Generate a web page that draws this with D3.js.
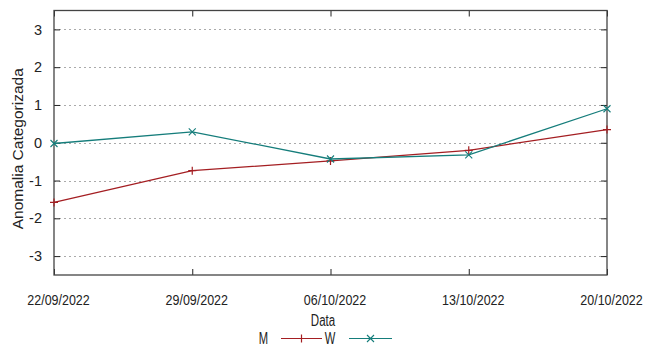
<!DOCTYPE html>
<html>
<head>
<meta charset="utf-8">
<script src="https://cdn.jsdelivr.net/npm/d3@7"></script>
<style>
  body { margin: 0; background: #fff; }
  text { font-family: 'Liberation Sans', Arial, sans-serif; fill: #222; }
</style>
</head>
<body>
<script>
const width = 647;
const height = 346;

const dates = ['22/09/2022', '29/09/2022', '06/10/2022', '13/10/2022', '20/10/2022'];
const valuesM = [-1.58, -0.74, -0.48, -0.2, 0.35];
const valuesW = [-0.02, 0.29, -0.43, -0.32, 0.9];
const yTicks = [-3, -2, -1, 0, 1, 2, 3];

const colorM = '#a41e22';
const colorW = '#157d7b';

const margin = { top: 10.5, right: 40, bottom: 71, left: 54 };

const svg = d3.select('body').append('svg')
  .attr('width', width)
  .attr('height', height);

// squeeze text to look like a narrow face
function narrow(sel, k) {
  sel.each(function () {
    const w = this.getComputedTextLength();
    d3.select(this).attr('textLength', w * k).attr('lengthAdjust', 'spacingAndGlyphs');
  });
}

const x = d3.scalePoint()
  .domain(dates)
  .range([margin.left, width - margin.right]);

const y = d3.scaleLinear()
  .domain([-3.5, 3.5])
  .range([height - margin.bottom, margin.top]);

// grid
svg.append('g')
  .selectAll('line')
  .data(yTicks)
  .enter().append('line')
  .attr('x1', margin.left)
  .attr('x2', width - margin.right)
  .attr('y1', d => Math.round(y(d)) + 0.5)
  .attr('y2', d => Math.round(y(d)) + 0.5)
  .style('stroke', '#aaa')
  .style('stroke-dasharray', '2,3');

// axes with inward ticks
const yLeft = svg.append('g')
  .attr('transform', `translate(${margin.left},0)`)
  .call(d3.axisLeft(y).tickValues(yTicks).tickFormat(d => String(d))
    .tickSizeInner(-6).tickSizeOuter(0).tickPadding(12));
const yRight = svg.append('g')
  .attr('transform', `translate(${width - margin.right},0)`)
  .call(d3.axisRight(y).tickValues(yTicks).tickSizeInner(-6).tickSizeOuter(0).tickFormat(''));
const xBottom = svg.append('g')
  .attr('transform', `translate(0,${height - margin.bottom})`)
  .call(d3.axisBottom(x).tickSizeInner(-6).tickSizeOuter(0).tickPadding(20));
const xTop = svg.append('g')
  .attr('transform', `translate(0,${margin.top})`)
  .call(d3.axisTop(x).tickSizeInner(-6).tickSizeOuter(0).tickFormat(''));

[yLeft, yRight, xBottom, xTop].forEach(g => {
  g.select('.domain').remove();
  g.selectAll('line').style('stroke', '#222');
});

yLeft.selectAll('text')
  .style('font-family', "'Liberation Sans', Arial, sans-serif")
  .style('font-size', '14.5px')
  .style('fill', '#222');

xBottom.selectAll('text')
  .attr('dx', 4)
  .style('font-family', "'Liberation Sans', Arial, sans-serif")
  .style('font-size', '14.5px')
  .style('fill', '#222')
  .call(narrow, 0.86);

// frame
svg.append('rect')
  .attr('x', margin.left)
  .attr('y', margin.top)
  .attr('width', width - margin.left - margin.right)
  .attr('height', height - margin.top - margin.bottom)
  .style('fill', 'none')
  .style('stroke', '#444')
  .style('stroke-width', 1.3);

// series
const series = [
  { name: 'M', values: valuesM, color: colorM, mark: 'plus' },
  { name: 'W', values: valuesW, color: colorW, mark: 'cross' }
];

const line = d3.line()
  .x((d, i) => x(dates[i]))
  .y(d => y(d));

function marker(g, cx, cy, type, color) {
  if (type === 'plus') {
    const s = 4;
    g.append('path').attr('d', `M${cx - s},${cy}H${cx + s}M${cx},${cy - s}V${cy + s}`)
      .style('stroke', color).style('stroke-width', 1.2);
  } else {
    const s = 3.5;
    g.append('path').attr('d', `M${cx - s},${cy - s}L${cx + s},${cy + s}M${cx - s},${cy + s}L${cx + s},${cy - s}`)
      .style('stroke', color).style('stroke-width', 1.1);
  }
}

series.forEach(s => {
  const g = svg.append('g');
  g.append('path')
    .datum(s.values)
    .attr('d', line)
    .style('fill', 'none')
    .style('stroke', s.color)
    .style('stroke-width', 1.3);
  s.values.forEach((v, i) => marker(g, x(dates[i]), y(v), s.mark, s.color));
});

// axis titles
svg.append('text')
  .attr('transform', `translate(23,${(margin.top + height - margin.bottom) / 2 + 6}) rotate(-90)`)
  .attr('text-anchor', 'middle')
  .style('font-size', '15.5px')
  .text('Anomalia Categorizada');

svg.append('text')
  .attr('x', 323)
  .attr('y', 326)
  .attr('text-anchor', 'middle')
  .style('font-size', '16px')
  .text('Data')
  .call(narrow, 0.72);

// legend
const legend = svg.append('g');
const legendItems = [
  { label: 'M', lx: 263.5, x1: 281, x2: 322, color: colorM, mark: 'plus' },
  { label: 'W', lx: 330, x1: 349, x2: 392, color: colorW, mark: 'cross' }
];
legendItems.forEach(d => {
  legend.append('text')
    .attr('x', d.lx)
    .attr('y', 344)
    .attr('text-anchor', 'middle')
    .style('font-size', '16px')
    .text(d.label)
    .call(narrow, 0.7);
  legend.append('line')
    .attr('x1', d.x1).attr('x2', d.x2)
    .attr('y1', 338.5).attr('y2', 338.5)
    .style('stroke', d.color)
    .style('stroke-width', 1.2);
  marker(legend, (d.x1 + d.x2) / 2, 338.5, d.mark, d.color);
});
</script>
</body>
</html>
